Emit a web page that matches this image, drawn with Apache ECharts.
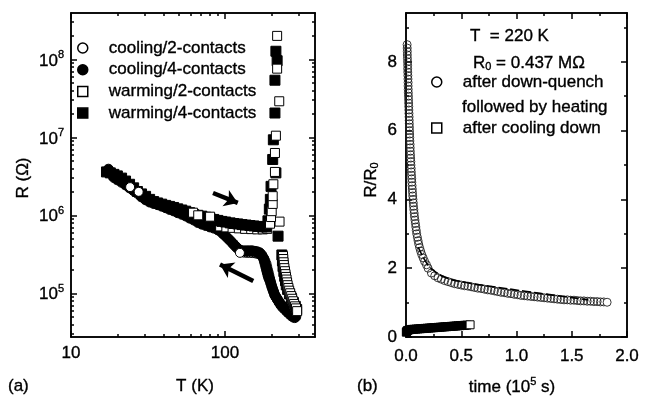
<!DOCTYPE html>
<html><head><meta charset="utf-8">
<script src="https://cdn.jsdelivr.net/npm/echarts@6/dist/echarts.min.js"></script>
<style>html,body{margin:0;padding:0;background:#fff;}#c{width:645px;height:401px;}</style>
</head><body><div id="c"></div>
<script>
// ---------------- Panel (a): R vs T (log-log) ----------------
// cooling / 4 contacts (filled circles): hysteresis loop from high T, then low-T branch
const cool4T = [288,280,272,264,256,248,240,232,225,219,214,210,207,204,201,198,195,192,190,188,186,184,182,180,177,173,168,162,156,150,144,138,132,126,121,117,113,109,105,101,97,93,
  89.9,84.6,79.7,75,70.7,66.6,62.7,59,55.6,52.4,49.3,46.4,43.7,41.2,38.8,36.5,34.4,32.4,30.5,28.7,27,25.5,24,22.6,21.3,20,19,18.2,17.5];
const cool4R = [5.0e4,5.0e4,5.2e4,5.5e4,5.8e4,6.2e4,6.6e4,7.1e4,7.7e4,8.4e4,9.0e4,9.6e4,1.04e5,1.13e5,1.23e5,1.35e5,1.48e5,1.6e5,1.72e5,1.86e5,2.02e5,2.2e5,2.4e5,2.6e5,2.85e5,3.1e5,3.3e5,3.4e5,3.45e5,3.5e5,3.5e5,3.5e5,3.5e5,3.55e5,3.75e5,4.0e5,4.3e5,4.65e5,5.0e5,5.4e5,5.8e5,6.3e5,
  6.5e5,6.85e5,7.1e5,7.4e5,7.7e5,8.1e5,8.7e5,9.2e5,9.8e5,1.03e6,1.08e6,1.14e6,1.19e6,1.25e6,1.31e6,1.37e6,1.42e6,1.48e6,1.58e6,1.72e6,1.92e6,2.07e6,2.25e6,2.45e6,2.65e6,2.85e6,3.05e6,3.45e6,3.9e6];
// cooling / 2 contacts (open circles)
const cool2T = [284,276,268,260,252,244,236,229,223,218,214,211,208,205,202,200,198,196,194,192,190,188,186,183,180,175,169,163,157,151,145,139,133,125,27.5,24.2];
const cool2R = [4.8e4,4.9e4,5.1e4,5.4e4,5.7e4,6.1e4,6.5e4,7.0e4,7.6e4,8.2e4,8.8e4,9.5e4,1.02e5,1.1e5,1.2e5,1.31e5,1.43e5,1.56e5,1.7e5,1.85e5,2.0e5,2.18e5,2.38e5,2.58e5,2.78e5,2.98e5,3.12e5,3.2e5,3.25e5,3.28e5,3.3e5,3.3e5,3.32e5,3.3e5,2.0e6,2.3e6];
// warming / 4 contacts (filled squares)
const warm4T = [17,18,19,20,21.3,22.6,24,25.5,27,28.7,30.5,32.4,34.4,36.5,38.8,41.2,43.7,46.4,49.3,52.4,55.6,59,62.7,66.6,70.7,75,79.7,84.6,89.9,95.4,
  101,108,114,121,129,137,145,154,164,174,185,190,194,197,199,214,204,206,211,211,218,214,221,234,236,238,241,244,247,250,255,262,270,278,286,292];
const warm4R = [3.6e6,3.5e6,3.35e6,3.2e6,3.0e6,2.75e6,2.5e6,2.25e6,2.02e6,1.88e6,1.75e6,1.6e6,1.5e6,1.44e6,1.39e6,1.34e6,1.3e6,1.26e6,1.21e6,1.17e6,1.13e6,1.08e6,1.02e6,1.0e6,9.75e5,9.45e5,9.15e5,8.85e5,8.6e5,8.35e5,
  8.2e5,8.0e5,7.85e5,7.75e5,7.6e5,7.5e5,7.4e5,7.3e5,7.2e5,7.1e5,7.1e5,8.5e5,1.2e6,1.6e6,2.35e6,3.5e6,5.2e6,9.3e6,2.05e7,5.4e7,9.6e7,1.27e8,5.4e5,3.1e5,2.6e5,2.2e5,1.9e5,1.65e5,1.45e5,1.28e5,1.12e5,9.8e4,8.6e4,7.6e4,6.8e4,6.2e4];
// warming / 2 contacts (open squares): part hidden in the band, part on the jump and the high-T branch
const warm2BandT = [93,102,112,123,135,148,162,176,188];
const warm2BandR = [7.2e5,7.0e5,6.9e5,6.8e5,6.7e5,6.65e5,6.6e5,6.6e5,6.7e5];
const warm2T = [62,67,80,196,226,199,201,204,204,206,211,211,214,225,218,218,
  238,239,240,241,243,245,247,249,251,253,255,258,261,265,269,273,277,281,285,289,294];
const warm2R = [1.08e6,1.0e6,9.6e5,7.8e5,8.3e5,9.5e5,1.13e6,1.4e6,1.76e6,2.5e6,3.6e6,6.3e6,1.05e7,2.9e7,7.6e7,2.0e8,
  3.0e5,2.75e5,2.5e5,2.3e5,2.1e5,1.92e5,1.76e5,1.62e5,1.5e5,1.38e5,1.27e5,1.17e5,1.08e5,1.0e5,9.2e4,8.5e4,7.9e4,7.3e4,6.8e4,6.4e4,5.9e4];
// arrows (data coordinates: T, R)
const arrowWarm = [[83.6, 1.93e6], [121, 1.44e6]];
const arrowCool = [[152.5, 1.44e5], [92.8, 2.34e5]];
// ticks
const aXMajor = [10, 100];
const aXMinor = [20,30,40,50,60,70,80,90,200,300];
const aYMajor = [1e5, 1e6, 1e7, 1e8];
const aYMinor = [3e4,4e4,5e4,6e4,7e4,8e4,9e4,2e5,3e5,4e5,5e5,6e5,7e5,8e5,9e5,2e6,3e6,4e6,5e6,6e6,7e6,8e6,9e6,2e7,3e7,4e7,5e7,6e7,7e7,8e7,9e7,2e8,3e8];

// ---------------- Panel (b): R/R0 vs time ----------------
const quenchT = [0.010,0.011,0.012,0.012,0.013,0.014,0.015,0.015,0.016,0.017,0.018,0.019,0.019,0.020,0.021,0.022,0.023,0.024,0.025,0.026,
  0.027,0.028,0.029,0.030,0.031,0.032,0.033,0.034,0.035,0.037,0.038,0.039,0.041,0.042,0.044,0.045,0.047,0.048,0.050,0.052,
  0.053,0.055,0.057,0.059,0.061,0.063,0.066,0.068,0.071,0.074,0.077,0.081,0.085,0.089,0.093,0.097,0.103,0.109,0.115,0.123,
  0.132,0.142,0.155,0.168,0.185,
  0.20,0.23,0.26,0.29,0.32,0.35,0.38,0.41,0.44,0.47,0.50,0.53,0.56,0.59,0.62,0.65,0.68,0.71,0.74,0.77,0.80,0.83,0.86,0.89,0.92,0.95,0.98,
  1.01,1.04,1.07,1.10,1.13,1.16,1.19,1.22,1.25,1.28,1.31,1.34,1.37,1.40,1.43,1.46,1.49,1.52,1.55,1.58,1.61,1.64,1.67,1.70,1.73,1.76,1.79,1.82];
const quenchR = [8.5,8.4,8.3,8.2,8.1,8.0,7.9,7.8,7.7,7.6,7.5,7.4,7.3,7.2,7.1,7.0,6.9,6.8,6.7,6.6,
  6.5,6.4,6.3,6.2,6.1,6.0,5.9,5.8,5.7,5.6,5.5,5.4,5.3,5.2,5.1,5.0,4.9,4.8,4.7,4.6,
  4.5,4.4,4.3,4.2,4.1,4.0,3.9,3.8,3.7,3.6,3.5,3.4,3.3,3.2,3.1,3.0,2.9,2.8,2.7,2.6,
  2.5,2.4,2.3,2.2,2.1,
  2.00,1.86,1.78,1.72,1.68,1.64,1.61,1.58,1.55,1.53,1.51,1.49,1.48,1.46,1.44,1.42,1.41,1.39,1.37,1.36,1.34,1.32,1.30,1.29,1.27,1.26,1.24,
  1.23,1.21,1.20,1.19,1.18,1.17,1.16,1.15,1.14,1.13,1.12,1.11,1.10,1.09,1.08,1.08,1.07,1.07,1.06,1.05,1.05,1.04,1.04,1.03,1.03,1.02,1.02,1.01];
// dashed curve drawn over the relaxation data
const curveT = [0.111, 0.172, 0.232, 0.353, 0.534, 0.776, 1.077, 1.35, 1.65];
const curveR = [2.61, 2.23, 1.98, 1.74, 1.59, 1.47, 1.33, 1.21, 1.08];
const coolDownT = [0.003,0.008,0.015,0.03,0.05,0.07,0.09,0.11,0.13,0.15,0.17,0.19,0.21,0.23,0.25,0.27,0.29,0.31,0.33,0.35,0.37,0.39,0.41,0.43,0.45,0.47,0.49,0.51,0.53,0.55,0.58];
const coolDownR = [0.14,0.17,0.19,0.21,0.22,0.225,0.23,0.235,0.24,0.245,0.25,0.255,0.26,0.265,0.27,0.275,0.28,0.285,0.29,0.295,0.30,0.305,0.31,0.315,0.32,0.325,0.33,0.335,0.34,0.345,0.355];
const bXMajor = [0, 0.5, 1.0, 1.5, 2.0];
const bXMinor = [0.25, 0.75, 1.25, 1.75];
const bYMajor = [0, 2, 4, 6, 8];
const bYMinor = [1, 3, 5, 7, 9];

const QNAME = 'after down-quench followed by heating';
const CNAME = 'after cooling down';

// ---------------- build ----------------
const FONT = '"Liberation Sans", Arial, Helvetica, sans-serif';
const zip = (a, b) => a.map((v, i) => [v, b[i]]);
const TB = {textBorderColor: '#000', textBorderWidth: 0.35};
const RICH = {
  b: Object.assign({fontSize: 17, lineHeight: 20, verticalAlign: 'bottom', fontFamily: FONT, color: '#000'}, TB),
  sup: Object.assign({fontSize: 11, lineHeight: 12, verticalAlign: 'top', fontFamily: FONT, color: '#000'}, TB),
  sub: Object.assign({fontSize: 11, lineHeight: 12, verticalAlign: 'bottom', fontFamily: FONT, color: '#000'}, TB)
};
const GS = {fill: '#000', stroke: '#000', lineWidth: 0.35};
const RICH_G = {
  b: Object.assign({fontSize: 17, lineHeight: 20, verticalAlign: 'bottom', fontFamily: FONT}, GS),
  sup: Object.assign({fontSize: 11, lineHeight: 12, verticalAlign: 'top', fontFamily: FONT}, GS),
  sub: Object.assign({fontSize: 11, lineHeight: 12, verticalAlign: 'bottom', fontFamily: FONT}, GS)
};
function ax(o) {
  const a = {
    gridIndex: o.grid, position: o.pos, type: o.type, min: o.min, max: o.max,
    splitLine: {show: false},
    axisLine: {show: true, onZero: false, lineStyle: {color: '#000', width: 1.5}},
    axisTick: {show: true, inside: true, length: o.len, customValues: o.ticks, lineStyle: {color: '#000', width: 1.5}},
    axisLabel: {show: false},
    axisPointer: {show: false},
    silent: true
  };
  if (o.type === 'log') a.logBase = 10;
  if (o.labels) {
    a.axisLabel = Object.assign({show: true, customValues: o.ticks, formatter: o.fmt, margin: o.margin,
      color: '#000', fontSize: 17, fontFamily: FONT, rich: RICH}, TB);
  }
  return a;
}
const gA = {left: 71, top: 13, width: 244, height: 324};
const gB = {left: 406, top: 13, width: 221, height: 324};
const aXr = {min: 10, max: 384};
const aYr = {min: 2.75e4, max: 3.93e8};
const bXr = {min: 0, max: 2.0};
const bYr = {min: 0, max: 9.42};
const logFmt = v => '{b|10}{sup|' + Math.round(Math.log10(v)) + '}';

const xAxis = [
  ax({grid: 0, pos: 'bottom', type: 'log', ...aXr, len: 6, ticks: aXMajor, labels: true, fmt: v => String(v), margin: 8}),
  ax({grid: 0, pos: 'top', type: 'log', ...aXr, len: 6, ticks: aXMajor}),
  ax({grid: 1, pos: 'bottom', type: 'log', ...aXr, len: 3, ticks: aXMinor}),
  ax({grid: 1, pos: 'top', type: 'log', ...aXr, len: 3, ticks: aXMinor}),
  ax({grid: 2, pos: 'bottom', type: 'value', ...bXr, len: 6, ticks: bXMajor, labels: true, fmt: v => v.toFixed(1), margin: 11}),
  ax({grid: 2, pos: 'top', type: 'value', ...bXr, len: 6, ticks: bXMajor}),
  ax({grid: 3, pos: 'bottom', type: 'value', ...bXr, len: 3, ticks: bXMinor}),
  ax({grid: 3, pos: 'top', type: 'value', ...bXr, len: 3, ticks: bXMinor})
];
const yAxis = [
  ax({grid: 0, pos: 'left', type: 'log', ...aYr, len: 6, ticks: aYMajor, labels: true, fmt: logFmt, margin: 7}),
  ax({grid: 0, pos: 'right', type: 'log', ...aYr, len: 6, ticks: aYMajor}),
  ax({grid: 1, pos: 'left', type: 'log', ...aYr, len: 3, ticks: aYMinor}),
  ax({grid: 1, pos: 'right', type: 'log', ...aYr, len: 3, ticks: aYMinor}),
  ax({grid: 2, pos: 'left', type: 'value', ...bYr, len: 6, ticks: bYMajor, labels: true, fmt: v => String(v), margin: 9}),
  ax({grid: 2, pos: 'right', type: 'value', ...bYr, len: 6, ticks: bYMajor}),
  ax({grid: 3, pos: 'left', type: 'value', ...bYr, len: 3, ticks: bYMinor}),
  ax({grid: 3, pos: 'right', type: 'value', ...bYr, len: 3, ticks: bYMinor})
];

const CLEAR = 'rgba(0,0,0,0)';
const openStyle = {color: '#fff', borderColor: '#000', borderWidth: 1, opacity: 1};
const fillStyle = {color: '#000', borderColor: '#000', borderWidth: 1, opacity: 1};
function sc(name, data, symbol, size, style, xi, extra) {
  return Object.assign({type: 'scatter', name, data, symbol, symbolSize: size, itemStyle: style,
    xAxisIndex: xi, yAxisIndex: xi, silent: true, emphasis: {disabled: true}, animation: false}, extra || {});
}
const arrowLine = {
  silent: true, symbol: ['none', 'arrow'], symbolSize: 13, label: {show: false},
  lineStyle: {color: '#000', width: 4.5, type: 'solid', opacity: 1}, emphasis: {disabled: true},
  animation: false,
  data: [
    [{coord: arrowWarm[0]}, {coord: arrowWarm[1]}],
    [{coord: arrowCool[0]}, {coord: arrowCool[1]}]
  ]
};
const loopEnd = 33;                      // last loop point of cool2 (drawn solid white)
const qLast = quenchT.length - 1;
const cLast = coolDownT.length - 1;
const series = [
  sc('cooling/4-contacts', zip(cool4T, cool4R), 'circle', 10, fillStyle, 0, {markLine: arrowLine}),
  sc('warming/2-contacts', zip(warm2BandT, warm2BandR), 'rect', 9, openStyle, 0),
  sc('warming/4-contacts', zip(warm4T, warm4R), 'rect', 10, fillStyle, 0),
  sc('cooling/2-contacts', zip(cool2T, cool2R), 'circle', 9,
     {color: p => (p.dataIndex >= loopEnd ? '#fff' : CLEAR), borderColor: '#000', borderWidth: 1, opacity: 1}, 0),
  sc('warming/2-contacts', zip(warm2T, warm2R), 'rect', 9, openStyle, 0),
  sc(QNAME, zip(quenchT, quenchR), 'circle', 8,
     {color: p => (p.dataIndex === qLast ? '#fff' : CLEAR), borderColor: '#222', borderWidth: 0.9, opacity: 1}, 4),
  {type: 'line', name: 'curve', data: zip(curveT, curveR), xAxisIndex: 4, yAxisIndex: 4, smooth: true,
   showSymbol: false, symbol: 'none', silent: true, animation: false, emphasis: {disabled: true},
   lineStyle: {color: '#000', width: 1.6, type: [9, 3]}},
  sc(CNAME, zip(coolDownT, coolDownR), 'rect', 8,
     {color: p => (p.dataIndex === cLast ? '#fff' : '#000'), borderColor: '#000', borderWidth: 1, opacity: 1}, 4)
];

const legTxt = Object.assign({fontSize: 17, color: '#000', fontFamily: FONT, padding: [0, 0, 0, 16], lineHeight: 18}, TB);
const iconOpen = {color: '#fff', borderColor: '#000', borderWidth: 1.5};
const iconFill = {color: '#000', borderColor: '#000', borderWidth: 1.5};
const legend = [
  {orient: 'vertical', left: 77, top: 39, padding: 0, itemGap: 3.7, itemWidth: 10, itemHeight: 10,
   selectedMode: false, textStyle: legTxt,
   data: [
     {name: 'cooling/2-contacts', icon: 'circle', itemStyle: iconOpen},
     {name: 'cooling/4-contacts', icon: 'circle', itemStyle: iconFill},
     {name: 'warming/2-contacts', icon: 'rect', itemStyle: iconOpen},
     {name: 'warming/4-contacts', icon: 'rect', itemStyle: iconFill}
   ]},
  {orient: 'vertical', left: 431, top: 73, padding: 0, itemGap: 28, itemWidth: 10, itemHeight: 10,
   selectedMode: false, textStyle: legTxt,
   formatter: n => (n === QNAME ? 'after down-quench' : n),
   data: [
     {name: QNAME, icon: 'circle', itemStyle: iconOpen},
     {name: CNAME, icon: 'rect', itemStyle: {color: '#fff', borderColor: '#000', borderWidth: 1.5}}
   ]}
];

function txt(x, y, text, align, rot) {
  const el = {type: 'text', x, y, silent: true,
    style: {text: '{b|' + text + '}', align: align || 'left', verticalAlign: 'middle',
            textAlign: align || 'left', textVerticalAlign: 'middle', rich: RICH_G}};
  if (rot) el.rotation = rot;
  return el;
}
function rtxt(x, y, text, align, rot) {
  const el = txt(x, y, '', align, rot);
  el.style.text = text;
  return el;
}
const graphic = [
  txt(8, 385, '(a)'),
  txt(195, 385, 'T (K)', 'center'),
  txt(22, 178, 'R (Ω)', 'center', Math.PI / 2),
  txt(357, 385, '(b)'),
  rtxt(512, 386, '{b|time (10}{sup|5}{b| s)}', 'center'),
  rtxt(370, 180, '{b|R/R}{sub|0}', 'center', Math.PI / 2),
  txt(470, 35, 'T  = 220 K'),
  rtxt(473, 62, '{b|R}{sub|0}{b| = 0.437 MΩ}'),
  txt(462, 106, 'followed by heating')
];

const chart = echarts.init(document.getElementById('c'), null, {renderer: 'canvas'});
chart.setOption({
  animation: false,
  backgroundColor: '#fff',
  textStyle: {fontFamily: FONT},
  grid: [
    Object.assign({}, gA), Object.assign({}, gA),
    Object.assign({}, gB), Object.assign({}, gB)
  ],
  xAxis, yAxis, legend, series, graphic
});
</script></body></html>
